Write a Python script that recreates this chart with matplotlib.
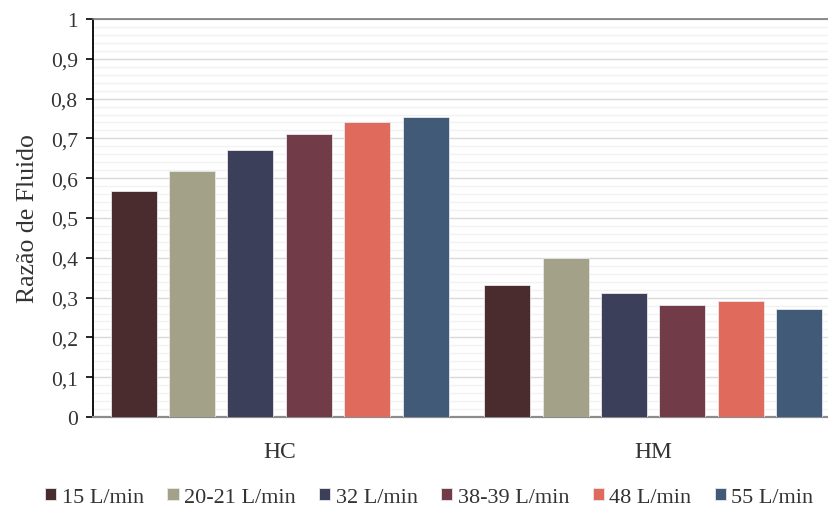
import matplotlib
matplotlib.use("Agg")
import matplotlib.pyplot as plt
from matplotlib.ticker import MultipleLocator, FuncFormatter
import numpy as np

plt.rcParams['font.family'] = ['Liberation Serif', 'DejaVu Serif']

groups = ['HC', 'HM']
series = ['15 L/min', '20-21 L/min', '32 L/min', '38-39 L/min', '48 L/min', '55 L/min']
values = [
    [0.567, 0.332],
    [0.619, 0.400],
    [0.672, 0.312],
    [0.711, 0.281],
    [0.740, 0.292],
    [0.755, 0.272],
]
colors = ['#4a2c2f', '#a3a288', '#3b3f5a', '#713c47', '#e06b5c', '#405a78']

fig = plt.figure(figsize=(8.29, 5.10), dpi=100)
ax = fig.add_axes([0.1122, 0.1804, 0.8866, 0.7804])

x = np.arange(len(groups))
pitch = 0.1564
width = 0.123
for i, (name, vals, c) in enumerate(zip(series, values, colors)):
    offs = (i - (len(series) - 1) / 2) * pitch
    ax.bar(x + offs, vals, width, color=c, edgecolor='#e8e8ec', linewidth=0.6,
           label=name, zorder=3)

ax.set_ylim(0, 1)
ax.set_xlim(-0.4995, 1.468)
ax.yaxis.set_major_locator(MultipleLocator(0.1))
ax.yaxis.set_minor_locator(MultipleLocator(0.02))
ax.yaxis.set_major_formatter(FuncFormatter(
    lambda v, p: '0' if abs(v) < 1e-9 else ('1' if abs(v - 1) < 1e-9 else f'{v:.1f}'.replace('.', ','))))
ax.grid(axis='y', which='major', color='#d9d9d9', linewidth=1.0, zorder=0)
ax.grid(axis='y', which='minor', color='#f2f2f2', linewidth=1.0, zorder=0)
ax.tick_params(axis='y', which='major', direction='out', length=5, width=1.2,
               color='black', labelsize=15.5, pad=6, labelcolor='#333333')
ax.tick_params(axis='y', which='minor', length=0)
ax.set_xticks(x)
ax.set_xticklabels(groups)
ax.tick_params(axis='x', length=0, labelsize=17, pad=17, labelcolor='#333333')

ax.spines['right'].set_visible(False)
ax.spines['top'].set_color('#7a7a7a')
ax.spines['top'].set_linewidth(1.2)
ax.spines['left'].set_color('black')
ax.spines['left'].set_linewidth(1.3)
ax.spines['bottom'].set_color('#8c8c8c')
ax.spines['bottom'].set_linewidth(1.6)

ax.set_ylabel('Razão de Fluido', fontsize=18.5, color='#333333', labelpad=8)

leg = fig.legend(loc='center', bbox_to_anchor=(0.518, 0.023), ncol=6, frameon=False,
                 fontsize=16, handlelength=0.5, handleheight=0.5,
                 handletextpad=0.25, columnspacing=1.05)
for t in leg.get_texts():
    t.set_color('#333333')

fig.savefig('out.png', dpi=100)
